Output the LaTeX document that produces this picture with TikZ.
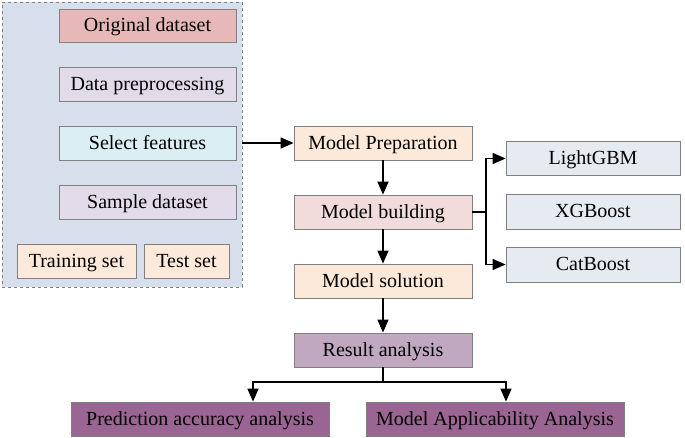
\documentclass[tikz,border=0pt]{standalone}
\usepackage{fontspec}
\setmainfont{Liberation Serif}
\usetikzlibrary{arrows.meta,positioning}
\definecolor{outerfill}{HTML}{D6DFEB}
\definecolor{origfill}{HTML}{E6B8B7}
\definecolor{lavfill}{HTML}{E1DBE9}
\definecolor{cyanfill}{HTML}{DBEEF3}
\definecolor{peachfill}{HTML}{FDE9D9}
\definecolor{pinkfill}{HTML}{F2DCDB}
\definecolor{modelfill}{HTML}{E6EBF2}
\definecolor{resfill}{HTML}{BFA8C0}
\definecolor{purpfill}{HTML}{9A6592}
\definecolor{bordergrey}{HTML}{808080}
\tikzset{
  box/.style={draw=bordergrey, line width=0.8pt, rectangle, inner sep=0pt,
    text height=15pt, text depth=2pt,
    font=\fontsize{20}{22}\selectfont, text=black},
  arr/.style={line width=1.5pt, -{Triangle[length=13pt,width=11pt]}},
  ln/.style={line width=1.5pt},
}
\begin{document}
\begin{tikzpicture}[x=1pt,y=-1pt]
\useasboundingbox (0,0) rectangle (685,438);
% outer dashed group
\node[draw=bordergrey, dashed, line width=0.8pt, fill=outerfill, minimum width=240pt, minimum height=285pt, inner sep=0pt] (outer) at (122,144.5) {};
\node[box, fill=origfill, minimum width=177pt, minimum height=33pt] (orig) at (147.5,25.5) {Original dataset};
\node[box, fill=lavfill, minimum width=177pt, minimum height=34pt] (prep) at (147.5,84) {Data preprocessing};
\node[box, fill=cyanfill, minimum width=177pt, minimum height=34pt] (sel) at (147.5,143) {Select features};
\node[box, fill=lavfill, minimum width=177pt, minimum height=34pt] (samp) at (147.5,202) {Sample dataset};
\node[box, fill=peachfill, minimum width=119pt, minimum height=34pt] (train) at (76.5,261) {Training set};
\node[box, fill=peachfill, minimum width=85pt, minimum height=34pt] (test) at (186.5,261) {Test set};
% main column
\node[box, fill=peachfill, minimum width=178pt, minimum height=34pt] (mprep) at (383,143) {Model Preparation};
\node[box, fill=pinkfill, minimum width=178pt, minimum height=34pt] (mbuild) at (383,212) {Model building};
\node[box, fill=peachfill, minimum width=178pt, minimum height=34pt] (msol) at (383,281) {Model solution};
% models
\node[box, fill=modelfill, minimum width=174pt, minimum height=34pt] (lgbm) at (593,158.5) {LightGBM};
\node[box, fill=modelfill, minimum width=174pt, minimum height=35pt] (xgb) at (593,211.5) {XGBoost};
\node[box, fill=modelfill, minimum width=174pt, minimum height=35pt] (cat) at (593,264.5) {CatBoost};
% results
\node[box, fill=resfill, minimum width=178pt, minimum height=34pt] (res) at (383,350) {Result analysis};
\node[box, fill=purpfill, minimum width=258pt, minimum height=34pt] (pred) at (200,419) {Prediction accuracy analysis};
\node[box, fill=purpfill, minimum width=258pt, minimum height=34pt] (appl) at (495,419) {Model Applicability Analysis};
% connectors
\draw[arr] (sel.east -| outer.east) -- (mprep.west);
\draw[arr] (mprep.south) -- (mbuild.north);
\draw[arr] (mbuild.south) -- (msol.north);
\draw[arr] (msol.south) -- (res.north);
\coordinate (br) at (486,212);
\draw[ln] (mbuild.east) -- (br);
\draw[arr] (br) |- (lgbm.west);
\draw[arr] (br) |- (cat.west);
\coordinate (rb) at (383,382);
\draw[ln] (res.south) -- (rb);
\draw[arr] (rb) -| ([xshift=53pt]pred.north);
\draw[arr] (rb) -| ([xshift=11pt]appl.north);
\end{tikzpicture}
\end{document}
